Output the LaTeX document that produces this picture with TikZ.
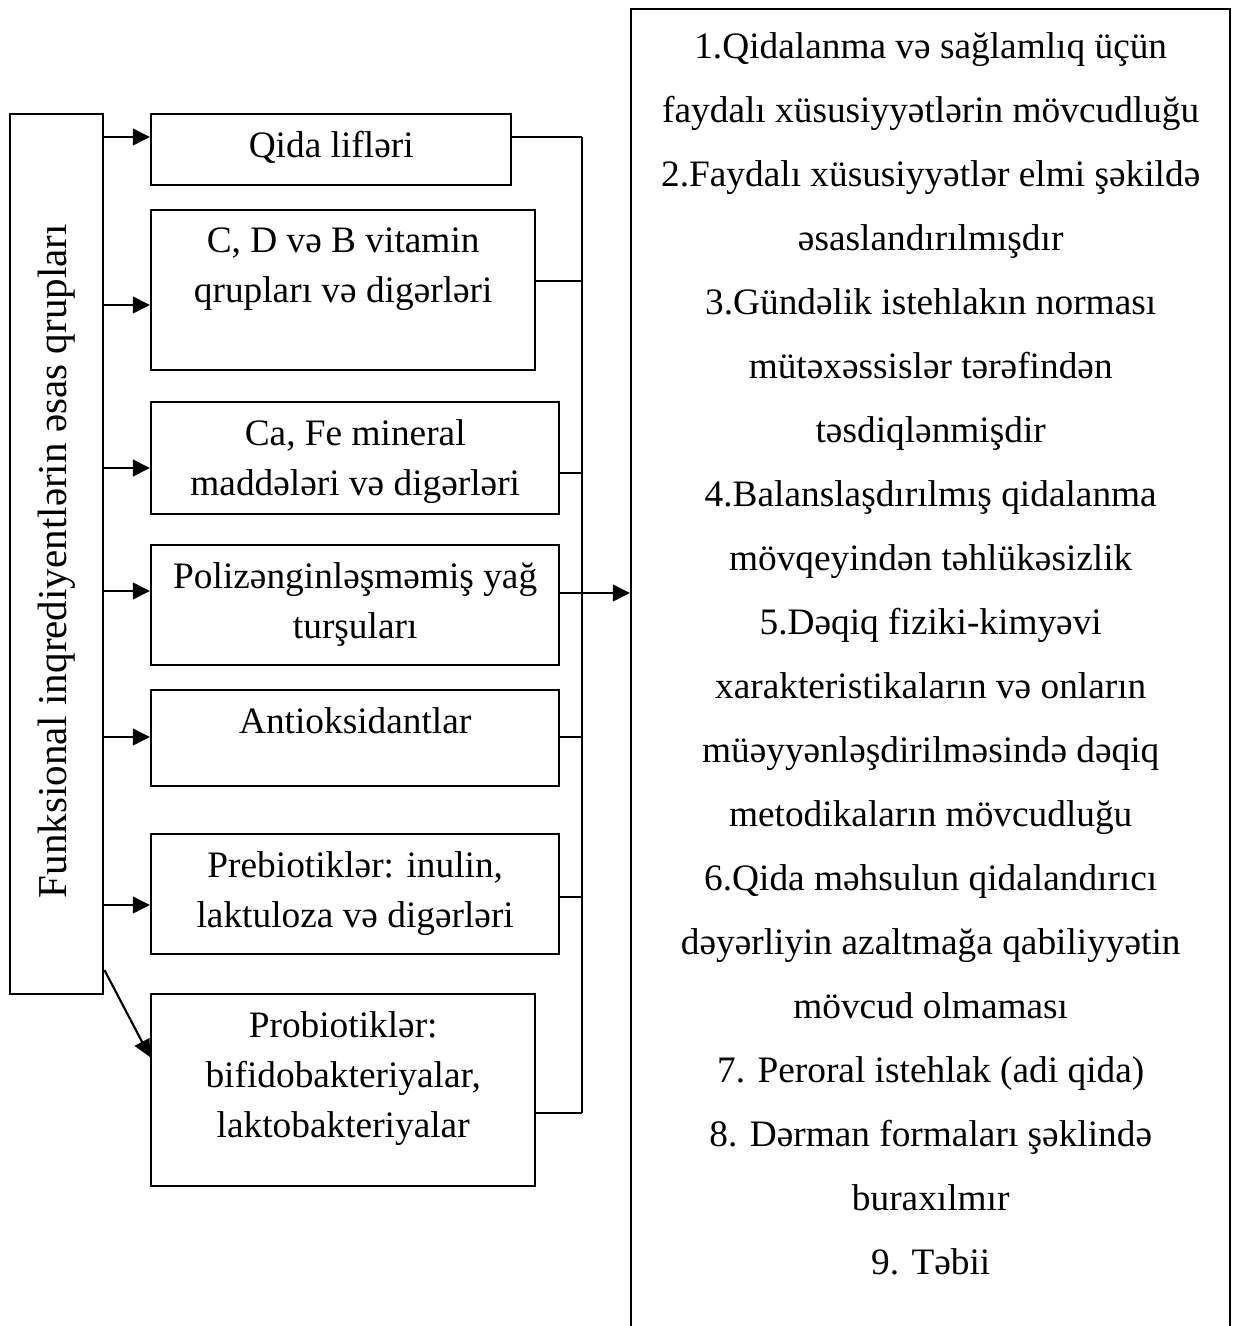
\documentclass[tikz,border=0pt]{standalone}
\usepackage{fontspec}
\setmainfont{Liberation Serif}
\usetikzlibrary{positioning, arrows.meta}

\def\unitpx{0.375pt}

\tikzset{
  grp/.style={draw, line width=0.9pt, anchor=north west, inner sep=0pt},
  grptext/.style={align=center, inner sep=0pt, font=\fontsize{14}{18.8}\selectfont},
  arr/.style={-{Triangle[length=6.4pt, width=6.2pt]}, line width=0.8pt},
  wire/.style={line width=0.8pt},
}

\begin{document}
\begin{tikzpicture}[x=0.375pt, y=-0.375pt]
  \useasboundingbox (0,0) rectangle (1242,1326);

  % Left group box
  \node[grp, minimum width=93*\unitpx, minimum height=880*\unitpx] (funk) at (9,113) {};
  \node[rotate=90, inner sep=0pt, font=\fontsize{15.4}{18.8}\selectfont] (funktext) at ([yshift=-7*\unitpx]funk.center)
    {Funksional inqrediyentlərin əsas qrupları};

  % Ingredient boxes
  \node[grp, minimum width=360*\unitpx, minimum height=71*\unitpx]  (q1) at (150,113) {};
  \node[grp, minimum width=384*\unitpx, minimum height=160*\unitpx] (q2) at (150,209) {};
  \node[grp, minimum width=408*\unitpx, minimum height=112*\unitpx] (q3) at (150,401) {};
  \node[grp, minimum width=408*\unitpx, minimum height=120*\unitpx] (q4) at (150,544) {};
  \node[grp, minimum width=408*\unitpx, minimum height=96*\unitpx]  (q5) at (150,689) {};
  \node[grp, minimum width=408*\unitpx, minimum height=120*\unitpx] (q6) at (150,833) {};
  \node[grp, minimum width=384*\unitpx, minimum height=192*\unitpx] (q7) at (150,993) {};

  \node[grptext, below=6.8pt of q1.north] (t1) {Qida lifləri};
  \node[grptext, below=6.8pt of q2.north] (t2) {C, D və B vitamin\\qrupları və digərləri};
  \node[grptext, below=6.8pt of q3.north] (t3) {Ca, Fe mineral\\maddələri və digərləri};
  \node[grptext, below=6.8pt of q4.north] (t4) {Polizənginləşməmiş yağ\\turşuları};
  \node[grptext, below=6.8pt of q5.north] (t5) {Antioksidantlar};
  \node[grptext, below=6.8pt of q6.north] (t6) {Prebiotiklər: inulin,\\laktuloza və digərləri};
  \node[grptext, below=6.8pt of q7.north] (t7) {Probiotiklər:\\bifidobakteriyalar,\\laktobakteriyalar};

  % Criteria box
  \node[grp, minimum width=599*\unitpx, minimum height=1400*\unitpx] (crit) at (630,8) {};
  \node[align=center, inner sep=0pt, font=\fontsize{14}{24}\selectfont, below=9pt of crit.north] (critlist)
    {1.Qidalanma və sağlamlıq üçün\\
     faydalı xüsusiyyətlərin mövcudluğu\\
     2.Faydalı xüsusiyyətlər elmi şəkildə\\
     əsaslandırılmışdır\\
     3.Gündəlik istehlakın norması\\
     mütəxəssislər tərəfindən\\
     təsdiqlənmişdir\\
     4.Balanslaşdırılmış qidalanma\\
     mövqeyindən təhlükəsizlik\\
     5.Dəqiq fiziki-kimyəvi\\
     xarakteristikaların və onların\\
     müəyyənləşdirilməsində dəqiq\\
     metodikaların mövcudluğu\\
     6.Qida məhsulun qidalandırıcı\\
     dəyərliyin azaltmağa qabiliyyətin\\
     mövcud olmaması\\
     7. Peroral istehlak (adi qida)\\
     8. Dərman formaları şəklində\\
     buraxılmır\\
     9. Təbii};

  % Arrows from the group box
  \foreach \n/\y in {q1/137, q2/305, q3/468, q4/591, q5/737, q6/905}
    \draw[arr] (funk.east |- 0,\y) -- (\n.west |- 0,\y);
  \draw[arr] (funk.east |- 0,970) -- (q7.west |- 0,1057);

  % Collecting line
  \coordinate (bustop) at (582,137);
  \coordinate (busbot) at (582,1113);
  \draw[wire] (bustop) -- (busbot);
  \foreach \n/\y in {q1/137, q2/281, q3/473, q5/737, q6/897, q7/1113}
    \draw[wire] (\n.east |- 0,\y) -- (bustop |- 0,\y);
  \draw[arr] (q4.east |- 0,593) -- (crit.west |- 0,593);
\end{tikzpicture}
\end{document}
